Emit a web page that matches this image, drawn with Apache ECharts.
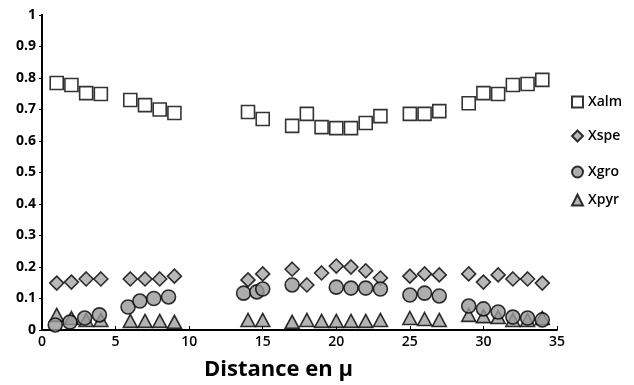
<!DOCTYPE html>
<html><head><meta charset="utf-8">
<script src="https://cdn.jsdelivr.net/npm/echarts@6/dist/echarts.min.js"></script>
<style>html,body{margin:0;padding:0;background:#fff}#c{width:634px;height:385px}</style>
</head><body><div id="c"></div>
<script>
const xTicks = [0,5,10,15,20,25,30,35];
const yTicks = [0,0.1,0.2,0.3,0.4,0.5,0.6,0.7,0.8,0.9,1];

const xalmX = [1,2,3,4,6,7,8,9,14,15,17,18,19,20,21,22,23,25,26,27,29,30,31,32,33,34];
const xalmY = [0.784,0.778,0.752,0.749,0.730,0.714,0.700,0.689,0.692,0.670,0.648,0.686,0.644,0.641,0.641,0.657,0.679,0.686,0.686,0.695,0.720,0.752,0.749,0.778,0.781,0.794];

const xspeX = [1,2,3,4,6,7,8,9,14,15,17,18,19,20,21,22,23,25,26,27,29,30,31,32,33,34];
const xspeY = [0.149,0.152,0.162,0.162,0.162,0.162,0.162,0.171,0.159,0.178,0.193,0.143,0.181,0.203,0.200,0.188,0.165,0.171,0.178,0.175,0.178,0.152,0.175,0.162,0.162,0.149];

const xgroX = [0.9,1.9,2.9,3.9,5.85,6.65,7.6,8.6,13.7,14.6,15,17,20,21,22,23,25,26,27,29,30,31,32,33,34];
const xgroY = [0.016,0.025,0.038,0.048,0.073,0.092,0.100,0.105,0.117,0.121,0.130,0.143,0.136,0.133,0.133,0.130,0.111,0.117,0.108,0.076,0.067,0.057,0.041,0.038,0.032];

const xpyrX = [1,2,3,4,6,7,8,9,14,15,17,18,19,20,21,22,23,25,26,27,29,30,31,32,33,34];
const xpyrY = [0.048,0.038,0.032,0.032,0.029,0.029,0.029,0.026,0.032,0.032,0.026,0.032,0.029,0.029,0.029,0.029,0.032,0.038,0.035,0.032,0.048,0.044,0.041,0.032,0.032,0.038];

const zip = (a,b) => a.map((v,i)=>[v,b[i]]);
const font = 'Open Sans';
const chart = echarts.init(document.getElementById('c'));
const mkLegend = (name, top) => ({
  data:[name], left:566, top:top, orient:'vertical', itemWidth:11, itemHeight:11, itemGap:0,
  textStyle:{fontFamily:font, fontSize:14, color:'#000', fontWeight:600}, selectedMode:false
});
chart.setOption({
  animation:false,
  backgroundColor:'#fff',
  grid:{left:42, right:77, top:15, bottom:55, containLabel:false, outerBoundsMode:'none'},
  legend:[mkLegend('Xalm',90), mkLegend('Xspe',124), mkLegend('Xgro',160), mkLegend('Xpyr',188)],
  xAxis:[{
    type:'value', min:0, max:35, interval:5,
    name:'Distance en μ', nameLocation:'middle', nameGap:29,
    nameTextStyle:{fontFamily:font, fontSize:22, fontWeight:'bold', color:'#000', padding:[0,42,0,0]},
    axisLine:{show:true, onZero:false, lineStyle:{color:'#000', width:2}},
    axisTick:{show:true, inside:true, length:4, lineStyle:{color:'#000'}},
    axisLabel:{fontFamily:font, fontSize:14, color:'#000', fontWeight:600, margin:5},
    splitLine:{show:false}
  }],
  yAxis:[{
    type:'value', min:0, max:1, interval:0.1,
    axisLine:{show:true, onZero:false, lineStyle:{color:'#000', width:2}},
    axisTick:{show:true, inside:false, length:3, lineStyle:{color:'#000'}},
    axisLabel:{fontFamily:font, fontSize:14, color:'#000', fontWeight:700, margin:6,
      formatter:v=>String(Math.round(v*10)/10)},
    splitLine:{show:false}
  },{
    type:'value', min:0, max:1, position:'right',
    axisLine:{show:true, lineStyle:{color:'#000', width:2}},
    axisTick:{show:false}, axisLabel:{show:false}, splitLine:{show:false}
  }],
  series:[
    {name:'Xalm', type:'scatter', symbol:'rect', symbolSize:13, data:zip(xalmX,xalmY),
     itemStyle:{color:'#fff', borderColor:'#000', borderWidth:1.6}},
    {name:'Xspe', type:'scatter', symbol:'diamond', symbolSize:[14,14], data:zip(xspeX,xspeY),
     itemStyle:{color:'#a8a8a8', borderColor:'#000', borderWidth:1.6}},
    {name:'Xpyr', type:'scatter', symbol:'triangle', symbolSize:[14,13], data:zip(xpyrX,xpyrY),
     itemStyle:{color:'#a0a0a0', borderColor:'#000', borderWidth:1.6}},
    {name:'Xgro', type:'scatter', symbol:'circle', symbolSize:14, data:zip(xgroX,xgroY),
     itemStyle:{color:'#999', borderColor:'#000', borderWidth:1.6}}
  ]
});
</script></body></html>
